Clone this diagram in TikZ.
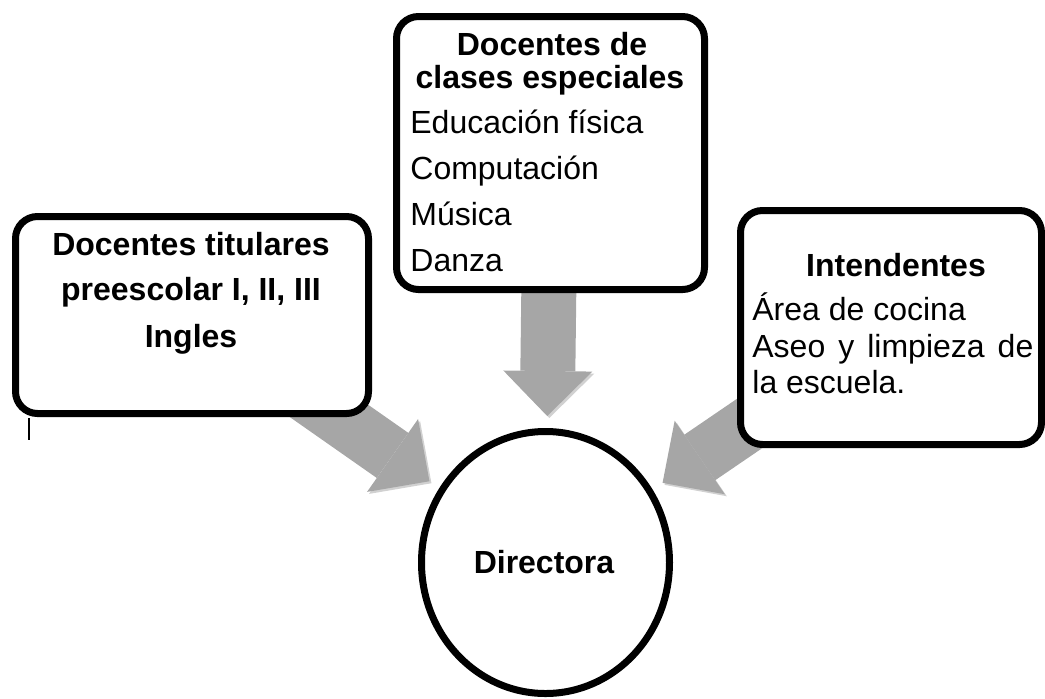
\documentclass[tikz,border=0pt]{standalone}
\usepackage{fontspec}
\setmainfont{Liberation Sans}
\usetikzlibrary{arrows.meta,shapes.geometric,shadows,backgrounds,positioning}
\definecolor{arrowgray}{RGB}{166,166,166}

\begin{document}
\begin{tikzpicture}[x=0.5pt,y=-0.5pt,
shade/.style={drop shadow={shadow xshift=1.2pt, shadow yshift=-1.2pt, fill=black!35}},
box/.style={draw, line width=3.5pt, rounded corners=11pt, fill=white, shade},
ring/.style={ellipse, draw, line width=3.5pt, fill=white, shade},
bigarrow/.style={draw=arrowgray, line width=27.5pt,
  -{Triangle[length=22.5pt,width=44.5pt,line width=0pt]},
  shorten <=-20pt, shorten >=6pt,
  preaction={draw=black!18, transform canvas={shift={(1pt,-1pt)}}}},
txt/.style={inner sep=0pt, font=\fontsize{16}{18}\selectfont},
head/.style={txt, font=\fontsize{16}{18}\selectfont\bfseries}]
\useasboundingbox (0,0) rectangle (1045,698);
\node[box, minimum width=176.5pt, minimum height=98.5pt] (tit) at (192,315) {};
\node[box, minimum width=154pt, minimum height=136.5pt] (esp) at (550.5,153) {};
\node[box, minimum width=150.5pt, minimum height=117pt] (int) at (891,327.5) {};
\node[ring, minimum width=124pt, minimum height=131pt] (dir) at (545.5,562.5) {};
% texts
\node[head, anchor=base] (tit_1) at (191,255) {Docentes titulares};
\node[head, anchor=base] (tit_2) at (191,300) {preescolar I, II, III};
\node[head, anchor=base] (tit_3) at (191,347) {Ingles};
\node[head, anchor=base] (esp_h1) at (552,55) {Docentes de};
\node[head, anchor=base] (esp_h2) at (550,88) {clases especiales};
\foreach \t [count=\i] in {Educación física, Computación, Música, Danza}
  \node[txt, anchor=base west] (esp_\i) at (410,{133+46.3*(\i-1)}) {\t};
\node[head, anchor=base] (int_h) at (896,276) {Intendentes};
\node[txt, anchor=base west] (int_1) at (752,320) {Área de cocina};
\node[txt, anchor=base west, text width=140.5pt, align=justify] (int_2) at (752,357) {Aseo y limpieza de la escuela.};
\node[head, anchor=base] (dir_t) at (544,573) {Directora};
\coordinate (c_1) at (29,418);
\coordinate (c_2) at (29,440);
\draw[line width=1.3pt] (c_1) -- (c_2);
\begin{scope}[on background layer]
\draw[bigarrow] (tit) -- (dir);
\draw[bigarrow] (esp) -- (dir);
\draw[bigarrow] (int) -- (dir);
\end{scope}
\end{tikzpicture}
\end{document}
